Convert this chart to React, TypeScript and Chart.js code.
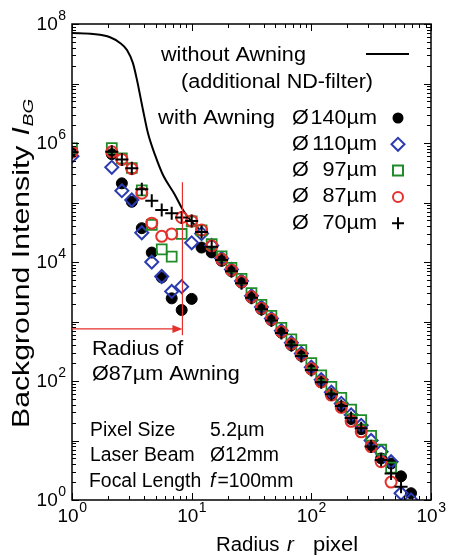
import React, { useEffect, useRef } from 'react';
import { Chart, registerables } from 'chart.js';

Chart.register(...registerables);

// ---------- data ----------
const radius = [1, 2.15, 2.61, 3.16, 3.83, 4.64, 5.62, 6.81, 8.25, 10, 12.1, 14.7, 17.8, 21.5, 26.1, 31.6, 38.3, 46.4, 56.2, 68.1, 82.5, 100, 121, 147, 178, 215, 261, 316, 383, 464, 562, 681];

const awning140 = [7.0e5, 6.5e5, 2.1e5, 1.03e5, 3.7e4, 1.44e4, 5.5e3, 2.45e3, 1.56e3, 2.4e3, 1.75e4, 1.45e4, 1.05e4, 7.0e3, 4.5e3, 2.5e3, 1.6e3, 1.05e3, 650, 400, 265, 155, 95, 58, 37, 23, 15.5, 8.2, 5.0, 4.1, 2.5, 1.3];
const awning110 = [6.0e5, 3.9e5, 1.58e5, 1.1e5, 3.1e4, 1.0e4, 5.7e3, 3.2e3, 3.85e3, 2.1e4, 3.0e4, 1.9e4, 1.15e4, 7.5e3, 4.8e3, 2.7e3, 1.75e3, 1.12e3, 700, 440, 290, 170, 105, 65, 42, 27, 18, 10, 6.5, 4.4, 1.3, 1.0];
const awning97 = [8.2e5, 8.2e5, 5.5e5, 3.8e5, 1.6e5, 4.2e4, 1.63e4, 1.23e4, 2.96e4, 4.8e4, 3.4e4, 2.0e4, 1.25e4, 8.0e3, 5.2e3, 3.0e3, 1.9e3, 1.25e3, 780, 500, 330, 200, 125, 80, 52, 33, 22, 12, 7, 3.5, null, null];
const awning87 = [7.0e5, 7.1e5, 5.3e5, 3.7e5, 1.43e5, 4.5e4, 2.7e4, 2.96e4, 5.6e4, 4.9e4, 3.45e4, 1.86e4, 1.11e4, 7.3e3, 4.67e3, 2.6e3, 1.67e3, 1.09e3, 675, 419, 274, 160, 97, 58, 36, 21, 14, 7.9, 4.4, 2.0, null, null];
const awning70 = [7.0e5, 7.1e5, 5.3e5, 3.76e5, 1.67e5, 1.07e5, 7.5e4, 6.6e4, 5.6e4, 4.9e4, 3.2e4, 1.8e4, 1.08e4, 7.0e3, 4.4e3, 2.5e3, 1.6e3, 1.04e3, 640, 400, 262, 153, 95, 60, 38, 24, 16, 7.9, 4.7, 2.8, 1.67, null];

const noAwningRadius = [1, 1.5, 2.08, 2.52, 2.88, 3.23, 3.49, 3.92, 4.31, 4.94, 5.76, 7.25, 8.46, 9.87, 11.7];
const noAwningIntensity = [7.06e7, 6.8e7, 6.0e7, 4.8e7, 3.66e7, 2.2e7, 1.15e7, 3.59e6, 1.47e6, 6.3e5, 2.9e5, 1.34e5, 7.5e4, 4.9e4, 3.45e4];

const legendLabels = ['140', '110', '97', '87', '70'];
const xTickExponents = [0, 1, 2, 3];
const yTickExponents = [0, 2, 4, 6, 8];
const xRange = [1, 1000];
const yRange = [1, 1e8];

// annotation (data coords)
const awningRadius87 = 8.37;
const radiusArrowLevel = 750;
const radiusLineTop = 2.2e5;
const radiusLineBottom = 590;

// ---------- styles ----------
const FONT = '"Liberation Sans", Arial, Helvetica, sans-serif';
const BLUE = '#2B3BB0';
const GREEN = '#1E8C28';
const RED = '#E5302B';

function drawText(ctx: CanvasRenderingContext2D, s: string, x: number, y: number, size: number, align: 'left' | 'right' | 'center' = 'left', sx = 1, italic = false, color = '#000') {
  ctx.save();
  ctx.font = `${italic ? 'italic ' : ''}${size}px ${FONT}`;
  ctx.fillStyle = color;
  ctx.textBaseline = 'middle';
  ctx.textAlign = 'left';
  const w = ctx.measureText(s).width * sx;
  const x0 = align === 'left' ? x : align === 'right' ? x - w : x - w / 2;
  ctx.translate(x0, y);
  ctx.scale(sx, 1);
  ctx.fillText(s, 0, 0);
  ctx.restore();
  return w;
}

function measure(ctx: CanvasRenderingContext2D, s: string, size: number) {
  ctx.save();
  ctx.font = `${size}px ${FONT}`;
  const w = ctx.measureText(s).width;
  ctx.restore();
  return w;
}

function drawMarker(ctx: CanvasRenderingContext2D, kind: number, x: number, y: number) {
  ctx.save();
  ctx.lineWidth = 2;
  ctx.beginPath();
  if (kind === 0) {
    ctx.fillStyle = '#000';
    ctx.arc(x, y, 5.5, 0, Math.PI * 2);
    ctx.fill();
  } else if (kind === 1) {
    ctx.strokeStyle = BLUE;
    ctx.moveTo(x - 6.5, y); ctx.lineTo(x, y - 6.5); ctx.lineTo(x + 6.5, y); ctx.lineTo(x, y + 6.5); ctx.closePath();
    ctx.stroke();
  } else if (kind === 2) {
    ctx.strokeStyle = GREEN;
    ctx.rect(x - 5, y - 5, 10, 10);
    ctx.stroke();
  } else if (kind === 3) {
    ctx.strokeStyle = RED;
    ctx.arc(x, y, 5, 0, Math.PI * 2);
    ctx.stroke();
  } else {
    ctx.strokeStyle = '#000';
    ctx.moveTo(x - 6, y); ctx.lineTo(x + 6, y); ctx.moveTo(x, y - 6); ctx.lineTo(x, y + 6);
    ctx.stroke();
  }
  ctx.restore();
}

const decorPlugin = {
  id: 'decor',
  afterDraw(chart: any) {
    const ctx: CanvasRenderingContext2D = chart.ctx;
    const a = chart.chartArea;
    const xs = chart.scales.x;
    const ys = chart.scales.y;
    ctx.save();

    // frame
    ctx.strokeStyle = '#000';
    ctx.lineWidth = 1.5;
    ctx.strokeRect(a.left, a.top, a.right - a.left, a.bottom - a.top);

    // inward ticks
    ctx.lineWidth = 1;
    ctx.beginPath();
    const x0 = Math.log10(xRange[0]), x1 = Math.log10(xRange[1]);
    for (let e = x0; e <= x1; e++) {
      for (let m = 1; m < 10; m++) {
        if (e === x1 && m > 1) break;
        const px = Math.round(xs.getPixelForValue(m * Math.pow(10, e))) + 0.5;
        const len = m === 1 ? 7 : 4;
        ctx.moveTo(px, a.bottom); ctx.lineTo(px, a.bottom - len);
        ctx.moveTo(px, a.top); ctx.lineTo(px, a.top + len);
      }
    }
    const y0 = Math.log10(yRange[0]), y1 = Math.log10(yRange[1]);
    for (let e = y0; e <= y1; e++) {
      for (let m = 1; m < 10; m++) {
        if (e === y1 && m > 1) break;
        const py = Math.round(ys.getPixelForValue(m * Math.pow(10, e))) + 0.5;
        const len = m === 1 ? 7 : 4;
        ctx.moveTo(a.left, py); ctx.lineTo(a.left + len, py);
        ctx.moveTo(a.right, py); ctx.lineTo(a.right - len, py);
      }
    }
    ctx.stroke();

    // tick labels
    const baseSize = 19, expSize = 14;
    xTickExponents.forEach((e) => {
      const px = xs.getPixelForValue(Math.pow(10, e));
      const wb = measure(ctx, '10', baseSize);
      const we = measure(ctx, String(e), expSize);
      const left = px - (wb + we) / 2;
      drawText(ctx, '10', left, a.bottom + 17, baseSize);
      drawText(ctx, String(e), left + wb + 0.5, a.bottom + 8, expSize);
    });
    yTickExponents.forEach((e) => {
      const py = ys.getPixelForValue(Math.pow(10, e));
      const right = a.left - 6;
      const we = measure(ctx, String(e), expSize);
      drawText(ctx, String(e), right, py - 8, expSize, 'right');
      drawText(ctx, '10', right - we - 0.5, py + 1, baseSize, 'right');
    });

    // axis titles
    ctx.save();
    ctx.translate(22, 428);
    ctx.rotate(-Math.PI / 2);
    const sxY = 1.26;
    let w = drawText(ctx, 'Background Intensity', 0, 0, 24, 'left', sxY);
    w += 10;
    const wi = drawText(ctx, 'I', w, 0, 24, 'left', sxY, true);
    drawText(ctx, 'BG', w + wi + 1, 7, 15, 'left', sxY, true);
    ctx.restore();

    drawText(ctx, 'Radius', 216, 545, 20, 'left', 1.02);
    drawText(ctx, 'r', 287, 545, 20, 'left', 1.02, true);
    drawText(ctx, 'pixel', 313, 545, 20, 'left', 1.1);

    // legend
    const sx = 1.08, ts = 20;
    drawText(ctx, 'without Awning', 161, 55, ts, 'left', sx);
    drawText(ctx, '(additional ND-filter)', 181, 82, ts, 'left', sx);
    ctx.beginPath();
    ctx.lineWidth = 2;
    ctx.strokeStyle = '#000';
    ctx.moveTo(366, 54); ctx.lineTo(409, 54);
    ctx.stroke();
    drawText(ctx, 'with Awning', 158, 118, ts, 'left', 1.1);
    legendLabels.forEach((lab, i) => {
      const cy = 118 + i * 26.3;
      drawText(ctx, 'Ø', 292, cy, ts, 'left', sx);
      drawText(ctx, lab + 'µm', 377, cy, ts, 'right', sx);
      drawMarker(ctx, i, 398, cy);
    });

    // awning radius annotation
    const rx = xs.getPixelForValue(awningRadius87);
    const ry = ys.getPixelForValue(radiusArrowLevel);
    ctx.strokeStyle = RED;
    ctx.fillStyle = RED;
    ctx.lineWidth = 1.2;
    ctx.beginPath();
    ctx.moveTo(rx, ys.getPixelForValue(radiusLineTop));
    ctx.lineTo(rx, ys.getPixelForValue(radiusLineBottom));
    ctx.moveTo(a.left, ry);
    ctx.lineTo(rx - 8, ry);
    ctx.stroke();
    ctx.beginPath();
    ctx.moveTo(rx, ry);
    ctx.lineTo(rx - 10, ry - 4);
    ctx.lineTo(rx - 10, ry + 4);
    ctx.closePath();
    ctx.fill();

    drawText(ctx, 'Radius of', 92, 349, ts, 'left', sx);
    drawText(ctx, 'Ø87µm Awning', 92, 374, ts, 'left', sx);

    const sl = 0.97;
    drawText(ctx, 'Pixel Size', 90, 430, ts, 'left', sl);
    drawText(ctx, '5.2µm', 210, 430, ts, 'left', sl);
    drawText(ctx, 'Laser Beam', 90, 455, ts, 'left', sl);
    drawText(ctx, 'Ø12mm', 210, 455, ts, 'left', sl);
    drawText(ctx, 'Focal Length', 89, 481, ts, 'left', sl);
    const wf = drawText(ctx, 'f', 210, 481, ts, 'left', sl, true);
    drawText(ctx, '=100mm', 210 + wf + 2, 481, ts, 'left', sl);

    ctx.restore();
  },
};

function pts(ys: (number | null)[]) {
  return radius.map((x, i) => ({ x, y: ys[i] })).filter((p) => p.y !== null) as { x: number; y: number }[];
}

export default function App() {
  const ref = useRef<HTMLCanvasElement | null>(null);
  useEffect(() => {
    if (!ref.current) return;
    const chart = new Chart(ref.current, {
      type: 'scatter',
      data: {
        datasets: [
          {
            type: 'line',
            label: 'without Awning',
            data: noAwningRadius.map((x, i) => ({ x, y: noAwningIntensity[i] })),
            showLine: true,
            borderColor: '#000',
            borderWidth: 2,
            pointRadius: 0,
            cubicInterpolationMode: 'monotone',
            order: 6,
          } as any,
          {
            label: 'Ø140µm',
            data: pts(awning140),
            pointStyle: 'circle',
            pointRadius: 5.5,
            backgroundColor: '#000',
            borderColor: '#000',
            borderWidth: 1,
            order: 5,
          },
          {
            label: 'Ø110µm',
            data: pts(awning110),
            pointStyle: 'rectRot',
            pointRadius: 6.5,
            backgroundColor: 'rgba(0,0,0,0)',
            borderColor: BLUE,
            borderWidth: 2,
            order: 4,
          },
          {
            label: 'Ø97µm',
            data: pts(awning97),
            pointStyle: 'rect',
            pointRadius: 7,
            backgroundColor: 'rgba(0,0,0,0)',
            borderColor: GREEN,
            borderWidth: 1.8,
            order: 3,
          },
          {
            label: 'Ø87µm',
            data: pts(awning87),
            pointStyle: 'circle',
            pointRadius: 5.5,
            backgroundColor: 'rgba(0,0,0,0)',
            borderColor: RED,
            borderWidth: 2,
            order: 2,
          },
          {
            label: 'Ø70µm',
            data: pts(awning70),
            pointStyle: 'cross',
            pointRadius: 6.5,
            backgroundColor: 'rgba(0,0,0,0)',
            borderColor: '#000',
            borderWidth: 2,
            order: 1,
          },
        ],
      },
      options: {
        animation: false,
        responsive: false,
        events: [],
        layout: { padding: { left: 72, right: 18, top: 24, bottom: 56 } },
        plugins: { legend: { display: false }, tooltip: { enabled: false }, title: { display: false } },
        scales: {
          x: { type: 'logarithmic', min: xRange[0], max: xRange[1], display: false },
          y: { type: 'logarithmic', min: yRange[0], max: yRange[1], display: false },
        },
      },
      plugins: [decorPlugin],
    });
    return () => chart.destroy();
  }, []);
  return (
    <div style={{ position: 'fixed', left: 0, top: 0, width: 449, height: 556, background: '#fff' }}>
      <canvas ref={ref} width={449} height={556} style={{ width: 449, height: 556, display: 'block' }} />
    </div>
  );
}
